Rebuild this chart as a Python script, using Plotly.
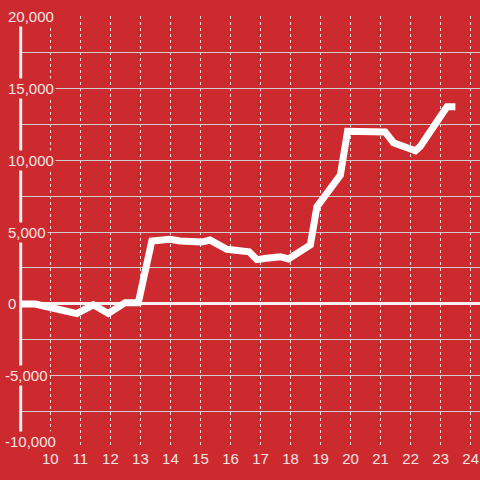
import plotly.graph_objects as go

x_vals = [9.0, 9.5, 10.33, 10.88, 11.43, 11.93, 12.49, 12.93, 13.38, 13.99, 14.32, 15.04,
          15.32, 15.88, 16.62, 16.88, 17.2, 17.66, 17.93, 18.66, 18.88, 19.66, 19.9,
          21.15, 21.43, 22.16, 22.32, 23.21, 23.49]
y_vals = [0, 0, -400, -670, -60, -660, 90, 90, 4370, 4490, 4380, 4300,
          4440, 3800, 3630, 3080, 3170, 3285, 3125, 4100, 6760, 8960, 12000,
          11950, 11200, 10650, 10950, 13700, 13700]

x_ticks = list(range(10, 25))
y_label_vals = [20000, 15000, 10000, 5000, 0, -5000, -10000]
y_label_text = ["20,000", "15,000", "10,000", "5,000", "0", "-5,000", "-10,000"]

BG = "#cc2a2e"
LABEL = "#f5e4e4"
FONT = "Liberation Sans, Arial, sans-serif"

fig = go.Figure()
fig.add_trace(go.Scatter(x=x_vals, y=y_vals, mode="lines",
                         line=dict(color="#ffffff", width=7), hoverinfo="skip"))

fig.update_layout(
    width=480, height=480,
    margin=dict(l=20, r=0, t=16, b=32),
    paper_bgcolor=BG, plot_bgcolor=BG,
    showlegend=False,
    font=dict(family=FONT, size=15, color=LABEL),
)
fig.update_xaxes(range=[8.99, 24.31], tickvals=x_ticks, ticktext=[str(t) for t in x_ticks],
                 showgrid=True, gridcolor="#e8e0e0", gridwidth=1, griddash="dot",
                 zeroline=False, showline=False, ticks="", automargin=False,
                 tickfont=dict(family=FONT, size=15, color=LABEL))
fig.update_yaxes(range=[-10005, 20005], dtick=2500, tick0=0, showticklabels=False,
                 showgrid=True, gridcolor="#cfcfcf", gridwidth=1, automargin=False,
                 zeroline=True, zerolinecolor="#f7f0f0", zerolinewidth=3,
                 showline=False, ticks="")

# vertical axis bar
fig.add_shape(type="line", xref="paper", yref="paper", x0=0.0015, x1=0.0015,
              y0=0.035, y1=0.9815, line=dict(color="#f2f0f0", width=3), layer="above")

for v, t in zip(y_label_vals, y_label_text):
    shift_y = 6 if v == -10000 else 0
    shift_x = -17 if v < 0 else -14
    fig.add_annotation(x=0, y=v, xref="paper", yref="y", text=t, showarrow=False,
                       xanchor="left", yanchor="middle", xshift=shift_x, yshift=shift_y,
                       bgcolor=BG, borderpad=1,
                       font=dict(family=FONT, size=15, color=LABEL))

fig.write_html("out.html", config={"displayModeBar": False},
               post_script="document.body.style.margin='0';document.body.style.background='%s';" % BG)
